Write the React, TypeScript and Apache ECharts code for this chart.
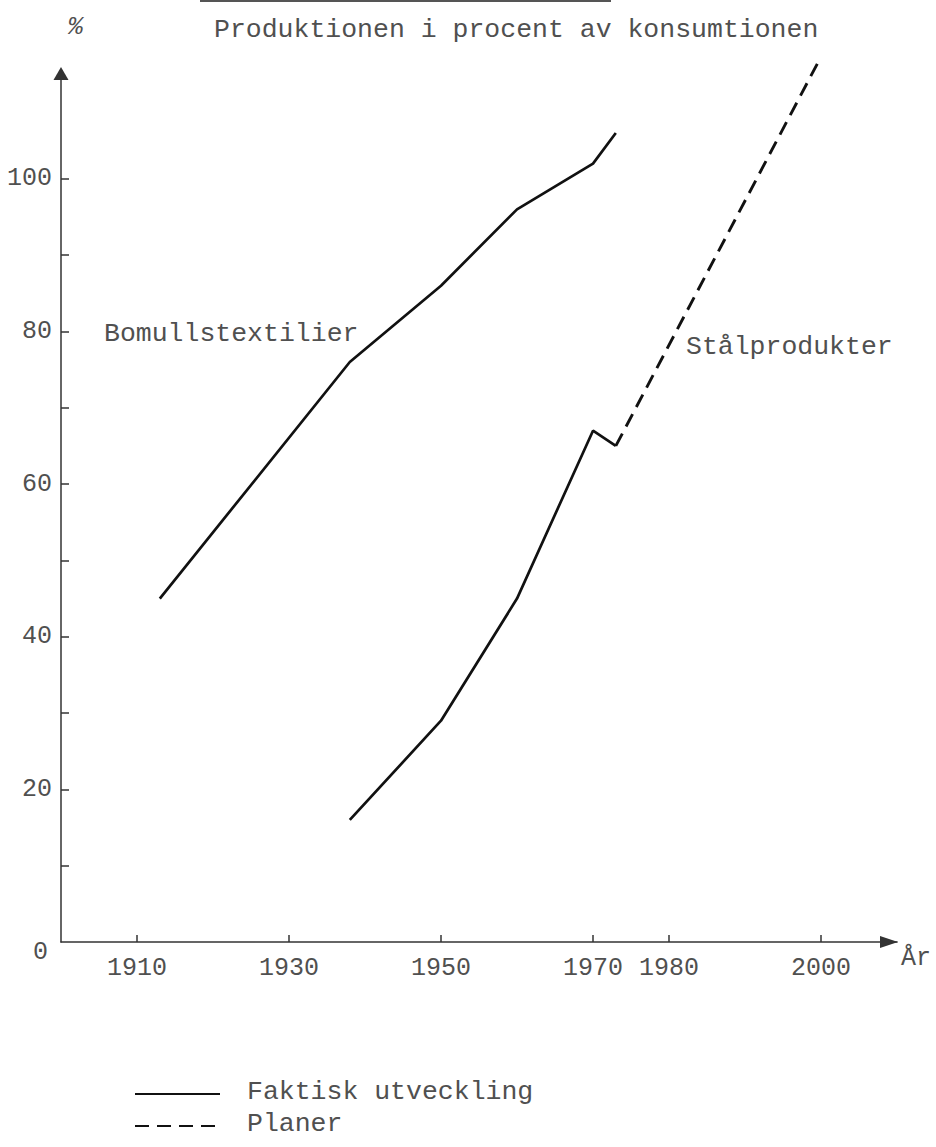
import React, { useEffect, useRef } from "react";
import * as echarts from "echarts";

// ---- data ----
const bomullYears = [1913, 1938, 1950, 1960, 1970, 1973];
const bomullValues = [45, 76, 86, 96, 102, 106];
const stalYears = [1938, 1950, 1960, 1970, 1973];
const stalValues = [16, 29, 45, 67, 65];
const planYears = [1973, 2000];
const planValues = [65, 116];
const xTickYears = [1910, 1930, 1950, 1970, 1980, 2000];
const yTickValues = [10, 20, 30, 40, 50, 60, 70, 80, 90, 100];
const yLabelValues = [0, 20, 40, 60, 80, 100];

const TITLE = "Produktionen i procent av konsumtionen";
const LABEL_BOMULL = "Bomullstextilier";
const LABEL_STAL = "Stålprodukter";
const LEGEND_ACTUAL = "Faktisk utveckling";
const LEGEND_PLAN = "Planer";

const FONT = "'Liberation Mono', 'DejaVu Sans Mono', monospace";
const TEXT = "#505050";
const INK = "#111";
const AXIS = "#333";
const DASH = [14, 8];

const zip = (xs: number[], ys: number[]) => xs.map((x, i) => [x, ys[i]]);

export default function App() {
  const ref = useRef<HTMLDivElement>(null);

  useEffect(() => {
    if (!ref.current) return;
    const chart = echarts.init(ref.current, undefined, { renderer: "svg" });
    const option: any = {
      animation: false,
      backgroundColor: "#fff",
      title: {
        text: TITLE,
        left: 209,
        top: 11,
        textStyle: { fontFamily: FONT, fontSize: 26.5, fontWeight: "normal", color: TEXT },
      },
      grid: { left: 61, right: 39, top: 72, bottom: 205, containLabel: false },
      xAxis: {
        type: "value",
        min: 1900,
        max: 2010,
        name: "År",
        nameLocation: "end",
        nameGap: 4,
        nameTextStyle: {
          fontFamily: FONT,
          fontSize: 25,
          color: TEXT,
          verticalAlign: "top",
          align: "left",
          padding: [4, 0, 0, 0],
        },
        axisLine: {
          show: true,
          symbol: ["none", "triangle"],
          symbolSize: [12, 18],
          symbolOffset: [0, -8],
          lineStyle: { color: AXIS, width: 1.5 },
        },
        axisTick: {
          show: true,
          inside: true,
          length: 7,
          customValues: xTickYears,
          lineStyle: { color: AXIS, width: 1.5 },
        },
        axisLabel: {
          customValues: xTickYears,
          fontFamily: FONT,
          fontSize: 25,
          color: TEXT,
          margin: 14,
          formatter: (v: number) => String(v),
        },
        splitLine: { show: false },
      },
      yAxis: {
        type: "value",
        min: 0,
        max: 114,
        axisLine: {
          show: true,
          symbol: ["none", "triangle"],
          symbolSize: [15, 13],
          symbolOffset: [0, -1.5],
          lineStyle: { color: AXIS, width: 1.5 },
        },
        axisTick: {
          show: true,
          inside: true,
          length: 8,
          customValues: yTickValues,
          lineStyle: { color: AXIS, width: 1.5 },
        },
        axisLabel: {
          customValues: yLabelValues,
          fontFamily: FONT,
          fontSize: 25,
          color: TEXT,
          margin: 9,
          formatter: (v: number) => (v === 0 ? "{z|0}" : String(v)),
          rich: {
            z: { fontFamily: FONT, fontSize: 25, color: TEXT, padding: [20, 4, 0, 0] },
          },
        },
        splitLine: { show: false },
      },
      series: [
        {
          type: "line",
          name: LEGEND_ACTUAL,
          data: zip(bomullYears, bomullValues),
          symbol: "none",
          clip: false,
          itemStyle: { color: INK },
          lineStyle: { color: INK, width: 2.7 },
        },
        {
          type: "line",
          name: LEGEND_ACTUAL,
          data: zip(stalYears, stalValues),
          symbol: "none",
          clip: false,
          itemStyle: { color: INK },
          lineStyle: { color: INK, width: 2.7 },
        },
        {
          type: "line",
          name: LEGEND_PLAN,
          data: zip(planYears, planValues),
          symbol: "none",
          clip: false,
          itemStyle: { color: INK },
          lineStyle: { color: INK, width: 2.9, type: DASH },
        },
      ],
      graphic: [
        {
          type: "line",
          shape: { x1: 200, y1: 1, x2: 611, y2: 1 },
          style: { stroke: "#555", lineWidth: 2 },
        },
        {
          type: "text",
          x: 68,
          y: 27,
          style: {
            text: "%",
            fontFamily: FONT,
            fontSize: 25,
            fontStyle: "italic",
            fill: TEXT,
            verticalAlign: "middle",
          },
        },
        {
          type: "text",
          x: 104,
          y: 334,
          style: { text: LABEL_BOMULL, fontFamily: FONT, fontSize: 26.5, fill: TEXT, verticalAlign: "middle" },
        },
        {
          type: "text",
          x: 686,
          y: 347,
          style: { text: LABEL_STAL, fontFamily: FONT, fontSize: 26.5, fill: TEXT, verticalAlign: "middle" },
        },
        // legend
        {
          type: "line",
          shape: { x1: 135, y1: 1094, x2: 220, y2: 1094 },
          style: { stroke: INK, lineWidth: 2.2 },
        },
        {
          type: "text",
          x: 247,
          y: 1092,
          style: { text: LEGEND_ACTUAL, fontFamily: FONT, fontSize: 26.5, fill: TEXT, verticalAlign: "middle" },
        },
        {
          type: "line",
          shape: { x1: 135, y1: 1126, x2: 220, y2: 1126 },
          style: { stroke: INK, lineWidth: 2.2, lineDash: DASH },
        },
        {
          type: "text",
          x: 247,
          y: 1124,
          style: { text: LEGEND_PLAN, fontFamily: FONT, fontSize: 26.5, fill: TEXT, verticalAlign: "middle" },
        },
      ],
    };
    chart.setOption(option);
    return () => chart.dispose();
  }, []);

  return (
    <div
      ref={ref}
      style={{ position: "absolute", left: 0, top: 0, width: 936, height: 1147, background: "#fff" }}
    />
  );
}
